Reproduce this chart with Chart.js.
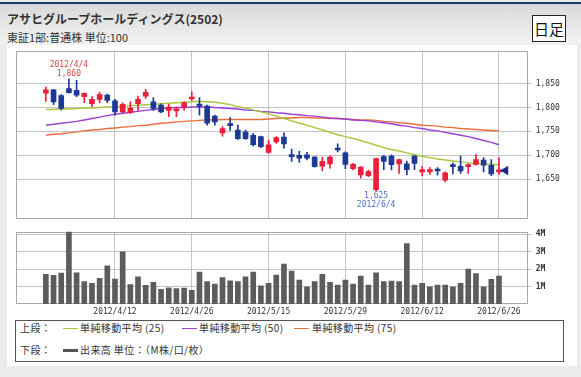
<!DOCTYPE html>
<html><head><meta charset="utf-8">
<script src="https://cdn.jsdelivr.net/npm/chart.js@4"></script>
<style>
html,body{margin:0;padding:0;}
body{width:581px;height:377px;position:relative;overflow:hidden;background:#ebebeb;font-family:"Noto Sans CJK JP","Noto Sans",sans-serif;color:#333;}
#navy{position:absolute;left:0;top:2px;width:581px;height:2px;background:#1d3a6b;}
#head{position:absolute;left:0;top:4px;width:581px;height:41px;background:linear-gradient(#d9d9d9,#f3f3f3);}
#panel{position:absolute;left:7px;top:45px;width:570px;height:321px;background:#fff;}
#title{position:absolute;left:7px;top:11px;font-size:12px;font-weight:bold;line-height:16px;white-space:nowrap;color:#333;}
#sub{position:absolute;left:7px;top:30px;font-size:11px;line-height:14px;white-space:nowrap;color:#333;}
#daily{position:absolute;left:532px;top:15px;width:32px;height:25px;border:1px solid #222;background:#fff;font-size:15px;line-height:25px;text-align:center;color:#111;}
canvas{position:absolute;left:0;}
#c1{top:45px;}
#c2{top:225px;}
#legend{position:absolute;left:15px;top:320px;width:547px;height:40px;border:1px solid #555;}
.lt{position:absolute;font-size:10px;line-height:12px;white-space:nowrap;color:#333;letter-spacing:0.4px;}
.ll{position:absolute;width:15px;}
</style></head><body>
<div id="navy"></div><div id="head"></div><div id="panel"></div>
<div id="title">アサヒグループホールディングス(2502)</div>
<div id="sub">東証1部:普通株 単位:100</div>
<div id="daily">日足</div>
<canvas id="c1" width="581" height="180"></canvas>
<canvas id="c2" width="581" height="95"></canvas>
<div id="legend"></div>
<div class="lt" style="left:20px;top:322px;">上段：</div>
<div class="ll" style="left:63px;top:328px;height:1px;background:#a6c83a;"></div>
<div class="lt" style="left:80px;top:322px;">単純移動平均 (25)</div>
<div class="ll" style="left:182px;top:328px;height:1px;background:#9b3fd6;"></div>
<div class="lt" style="left:199px;top:322px;">単純移動平均 (50)</div>
<div class="ll" style="left:294px;top:328px;height:1px;background:#ec6c3c;"></div>
<div class="lt" style="left:312px;top:322px;">単純移動平均 (75)</div>
<div class="lt" style="left:20px;top:344px;">下段：</div>
<div class="ll" style="left:63px;top:349px;height:3px;background:#555;"></div>
<div class="lt" style="left:80px;top:344px;">出来高 単位：（M株/口/枚）</div>
<script>
const dates = ['2012/3/30','2012/4/2','2012/4/3','2012/4/4','2012/4/5','2012/4/6','2012/4/9','2012/4/10','2012/4/11','2012/4/12',
'2012/4/13','2012/4/16','2012/4/17','2012/4/18','2012/4/19','2012/4/20','2012/4/23','2012/4/24','2012/4/25','2012/4/26',
'2012/4/27','2012/5/1','2012/5/2','2012/5/7','2012/5/8','2012/5/9','2012/5/10','2012/5/11','2012/5/14','2012/5/15',
'2012/5/16','2012/5/17','2012/5/18','2012/5/21','2012/5/22','2012/5/23','2012/5/24','2012/5/25','2012/5/28','2012/5/29',
'2012/5/30','2012/5/31','2012/6/1','2012/6/4','2012/6/5','2012/6/6','2012/6/7','2012/6/8','2012/6/11','2012/6/12',
'2012/6/13','2012/6/14','2012/6/15','2012/6/18','2012/6/19','2012/6/20','2012/6/21','2012/6/22','2012/6/25','2012/6/26'];

const opens = [1830,1837,1825,1840,1836,1823,1808,1817,1826,1814,
1791,1790,1808,1824,1812,1805,1794,1793,1801,1818,
1806,1803,1782,1747,1765,1753,1749,1742,1739,1706,
1728,1738,1700,1700,1701,1696,1677,1682,1713,1705,
1672,1659,1657,1628,1697,1698,1682,1682,1698,1665,
1665,1668,1648,1679,1677,1676,1681,1690,1679,1665];
const closes = [1837,1812,1798,1831,1826,1830,1817,1827,1815,1791,
1807,1799,1817,1832,1798,1791,1801,1796,1810,1821,
1803,1767,1770,1756,1762,1735,1735,1722,1718,1722,
1737,1724,1697,1694,1694,1676,1687,1696,1711,1681,
1681,1675,1666,1693,1687,1680,1691,1670,1683,1670,
1670,1667,1663,1676,1667,1679,1691,1679,1661,1668];
const highs = [1843,1838,1827,1860,1857,1831,1823,1832,1828,1817,
1810,1812,1824,1838,1821,1808,1807,1801,1812,1833,
1821,1805,1784,1760,1779,1763,1753,1746,1740,1732,
1739,1747,1713,1708,1706,1697,1696,1699,1724,1707,
1683,1676,1669,1694,1700,1701,1692,1688,1700,1676,
1674,1674,1665,1684,1698,1682,1702,1695,1691,1695];
const lows = [1813,1806,1795,1830,1823,1810,1802,1810,1810,1784,
1789,1787,1794,1819,1794,1789,1781,1781,1794,1815,
1784,1763,1763,1740,1752,1733,1733,1719,1716,1704,
1725,1715,1687,1685,1690,1675,1667,1673,1707,1672,
1669,1652,1655,1625,1670,1669,1662,1659,1670,1657,
1660,1658,1644,1661,1662,1662,1679,1665,1657,1660];

const ma25 = [1796,1796,1797,1797,1798,1799,1799,1800,1801,1802,
1803,1804,1805,1806,1807,1808,1809,1810,1811,1812,
1813,1812,1811,1809,1806,1802,1799,1795,1791,1787,
1782,1777,1772,1767,1763,1758,1753,1748,1743,1739,
1735,1731,1726,1721,1716,1712,1709,1705,1701,1698,
1695,1692,1690,1688,1686,1684,1683,1682,1681,1680];
const ma50 = [1763,1765,1767,1769,1771,1774,1777,1780,1783,1786,
1788,1790,1792,1794,1796,1798,1799,1800,1800,1801,
1801,1801,1800,1799,1798,1797,1795,1794,1792,1791,
1789,1788,1786,1785,1783,1782,1780,1778,1777,1776,
1774,1773,1772,1770,1768,1766,1763,1761,1758,1756,
1753,1751,1748,1745,1742,1739,1735,1731,1727,1722];
const ma75 = [1742,1744,1745,1747,1749,1751,1753,1754,1756,1757,
1759,1760,1762,1763,1765,1767,1768,1770,1771,1772,
1773,1774,1774,1775,1775,1775,1775,1775,1775,1776,
1777,1778,1778,1779,1779,1778,1778,1777,1777,1776,
1775,1774,1774,1773,1771,1770,1768,1767,1765,1763,
1762,1761,1759,1758,1756,1755,1754,1753,1752,1751];

// volume in millions of shares
const volumes = [1.70,1.64,1.77,4.15,1.79,1.28,1.18,1.47,2.19,1.43,
2.99,1.12,1.56,1.07,1.24,0.84,0.93,0.88,0.91,0.78,
1.83,1.28,1.14,1.52,1.33,1.28,1.56,1.83,1.05,1.18,
1.66,2.29,1.89,1.37,0.99,1.28,1.70,1.24,1.09,1.37,
1.14,1.60,1.09,1.79,1.28,1.31,1.28,3.47,1.09,1.18,
0.99,1.09,1.09,0.99,1.18,2.00,1.75,0.99,1.41,1.60];

const priceTicks = [1650,1700,1750,1800,1850];
const priceTickLabels = ['1,650','1,700','1,750','1,800','1,850'];
const volumeTicks = [1,2,3,4];
const volumeTickLabels = ['1M','2M','3M','4M'];
const dateTickIndex = [9,19,29,39,49,59];

const UP = '#e8203c', DOWN = '#1c3a94';
const GRID = '#c4c4c4';
const TICKFONT = {family:'DejaVu Sans Mono', size:8};
const X_MIN = -3.85, X_MAX = 62.74;

const candleColors = closes.map((c,i)=> c >= opens[i] ? UP : DOWN);
const fmt = v => v.toLocaleString('en-US');

const framePlugin = {
  id:'frame',
  beforeDatasetsDraw(chart){
    const {ctx, chartArea:a} = chart;
    ctx.save();
    ctx.strokeStyle = '#a8a8a8'; ctx.lineWidth = 1;
    const x0 = Math.round(a.left)+0.5, y0 = Math.round(a.top)+0.5;
    const x1 = Math.round(a.right)-0.5, y1 = Math.round(a.bottom)-0.5;
    ctx.strokeRect(x0, y0, x1-x0, y1-y0);
    ctx.restore();
  }
};

const extremesPlugin = {
  id:'extremes',
  afterDatasetsDraw(chart){
    const xs = chart.scales.x, ys = chart.scales.y, ctx = chart.ctx;
    let hi = 0, lo = 0;
    highs.forEach((v,i)=>{ if (v > highs[hi]) hi = i; });
    lows.forEach((v,i)=>{ if (v < lows[lo]) lo = i; });
    ctx.save();
    ctx.font = '8px "DejaVu Sans Mono"';
    ctx.textAlign = 'center'; ctx.textBaseline = 'middle';
    let x = xs.getPixelForValue(hi), y = ys.getPixelForValue(highs[hi]);
    ctx.fillStyle = '#d04848';
    ctx.fillText(fmt(highs[hi]), x, y - 5);
    ctx.fillText(dates[hi], x, y - 14);
    x = xs.getPixelForValue(lo); y = ys.getPixelForValue(lows[lo]);
    ctx.fillStyle = '#4a70d0';
    ctx.fillText(fmt(lows[lo]), x, y + 5);
    ctx.fillText(dates[lo], x, y + 14);
    ctx.restore();
  }
};

function xAxis(showLabels){
  return {
    type:'linear', min:X_MIN, max:X_MAX, bounds:'data', offset:false,
    afterBuildTicks: s => { s.ticks = dateTickIndex.map(v=>({value:v})); },
    afterFit: s => { s.height = showLabels ? 16 : 0; s.paddingLeft = 0; s.paddingRight = 0; },
    grid:{color:GRID, drawTicks:false, offset:false},
    border:{display:false},
    ticks:{display:showLabels, autoSkip:false, maxRotation:0, padding:3, font:TICKFONT, color:'#333',
      callback: v => dates[v]}
  };
}

const lineDs = (label, arr, color, order) => ({
  type:'line', label, data: arr.map((v,i)=>({x:i, y:v})),
  borderColor:color, borderWidth:1.4, pointRadius:0, tension:0, order
});

new Chart(document.getElementById('c1'), {
  type:'bar',
  data:{ datasets:[
    {label:'wick', data: lows.map((l,i)=>({x:i, y:[l, highs[i]]})), backgroundColor:candleColors,
     barThickness:1, grouped:false, order:2},
    {label:'body', data: opens.map((o,i)=>({x:i, y:[o, closes[i]]})), backgroundColor:candleColors,
     barThickness:5, minBarLength:2, grouped:false, order:1},
    lineDs('単純移動平均 (25)', ma25, '#a6c83a', 3),
    lineDs('単純移動平均 (50)', ma50, '#9b3fd6', 4),
    lineDs('単純移動平均 (75)', ma75, '#ec6c3c', 5),
    {type:'line', label:'last', data:[{x: closes.length - 1 + 0.85, y: closes[closes.length-1]}],
     showLine:false, pointStyle:'triangle', rotation:-90, pointRadius:5.5,
     backgroundColor:'#1a2a86', borderColor:'#1a2a86', borderWidth:0, order:0, clip:false}
  ]},
  options:{
    responsive:false, animation:false,
    layout:{padding:{left:16.3, right:0, top:5, bottom:5.7}},
    plugins:{legend:{display:false}, tooltip:{enabled:false}},
    scales:{
      x: xAxis(false),
      y: {position:'right', min:1565.7, max:1919.6,
        afterBuildTicks: s => { s.ticks = priceTicks.map(v=>({value:v})); },
        afterFit: s => { s.width = 53.3; s.paddingTop = 0; s.paddingBottom = 0; },
        grid:{color:GRID, tickLength:4, drawTicks:true},
        border:{display:false},
        ticks:{font:TICKFONT, color:'#333', padding:4,
          callback: (v) => priceTickLabels[priceTicks.indexOf(v)]}
      }
    }
  },
  plugins:[framePlugin, extremesPlugin]
});

new Chart(document.getElementById('c2'), {
  type:'bar',
  data:{ datasets:[
    {label:'出来高', data: volumes.map((v,i)=>({x:i, y:v})), backgroundColor:'#5c5c5c', barThickness:5, grouped:false}
  ]},
  options:{
    responsive:false, animation:false,
    layout:{padding:{left:16.3, right:0, top:6.7, bottom:0}},
    plugins:{legend:{display:false}, tooltip:{enabled:false}},
    scales:{
      x: xAxis(true),
      y: {position:'right', min:0, max:4.15,
        afterBuildTicks: s => { s.ticks = volumeTicks.map(v=>({value:v})); },
        afterFit: s => { s.width = 53.3; s.paddingTop = 0; s.paddingBottom = 0; },
        grid:{color:GRID, tickLength:4, drawTicks:true},
        border:{display:false},
        ticks:{font:{family:'DejaVu Sans Mono', size:8, weight:'bold'}, color:'#333', padding:4,
          callback: (v) => volumeTickLabels[volumeTicks.indexOf(v)]}
      }
    }
  },
  plugins:[framePlugin]
});
</script>
</body></html>
